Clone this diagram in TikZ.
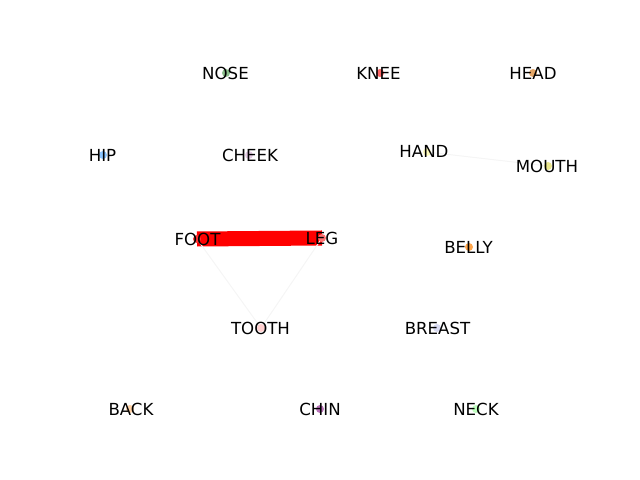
\documentclass[tikz,border=0pt]{standalone}
\usepackage{fontspec}
\setmainfont{DejaVu Sans}
\usetikzlibrary{backgrounds}

\tikzset{
    dot/.style={circle, inner sep=0pt, minimum size=0.08in, draw=none},
    word/.style={inner sep=0pt, font=\fontsize{12}{14}\selectfont},
    faint/.style={line width=0.01in, black!4},
    strong/.style={line width=0.15in, red, line cap=butt}
}

\begin{document}
\begin{tikzpicture}[x=0.01in, y=-0.01in]
    % Khung hình 640 x 480
    \useasboundingbox (0,0) rectangle (640,480);

    % 1. Các điểm (chấm màu nhạt)
    \node[dot, fill=red!80]          (foot)   at (197,239) {};
    \node[dot, fill=red!55]          (leg)    at (322,238) {};
    \node[dot, fill=green!45!black!45] (nose) at (226,73)  {};
    \node[dot, fill=red!60]          (knee)   at (380,73)  {};
    \node[dot, fill=brown!60!orange!70] (head) at (533,73) {};
    \node[dot, fill=blue!50!cyan!45] (hip)    at (103,155) {};
    \node[dot, fill=violet!20]       (cheek)  at (249,155) {};
    \node[dot, fill=yellow!25]       (hand)   at (427,152) {};
    \node[dot, fill=yellow!55!olive!40] (mouth) at (548,166) {};
    \node[dot, fill=orange!70]       (belly)  at (469,247) {};
    \node[dot, fill=pink!70!red!40]  (tooth)  at (261,328) {};
    \node[dot, fill=cyan!30!blue!15] (breast) at (437,328) {};
    \node[dot, fill=orange!35]       (back)   at (130,409) {};
    \node[dot, fill=violet!55]       (chin)   at (320,409) {};
    \node[dot, fill=green!25]        (neck)   at (476,409) {};

    % 2. Các cạnh (nằm dưới các chấm)
    \begin{pgfonlayer}{background}
        \draw[strong] (foot.center) -- (leg.center);
        \draw[faint] (foot.center) -- (tooth.center);
        \draw[faint] (leg.center) -- (tooth.center);
        \draw[faint] (hand.center) -- (mouth.center);
    \end{pgfonlayer}

    % 3. Nhãn chữ đặt đúng tâm mỗi điểm
    \node[word] (foot-l)   at (197.5,239) {FOOT};
    \node[word] (leg-l)    at (322,238)   {LEG};
    \node[word] (nose-l)   at (225.5,73)  {NOSE};
    \node[word] (knee-l)   at (378.5,73)  {KNEE};
    \node[word] (head-l)   at (533,73)    {HEAD};
    \node[word] (hip-l)    at (102.5,155) {HIP};
    \node[word] (cheek-l)  at (250,155)   {CHEEK};
    \node[word] (hand-l)   at (424,151)   {HAND};
    \node[word] (mouth-l)  at (547,166)   {MOUTH};
    \node[word] (belly-l)  at (468.5,247) {BELLY};
    \node[word] (tooth-l)  at (260.5,328) {TOOTH};
    \node[word] (breast-l) at (437.5,328) {BREAST};
    \node[word] (back-l)   at (131,409)   {BACK};
    \node[word] (chin-l)   at (320,409)   {CHIN};
    \node[word] (neck-l)   at (476,409)   {NECK};
\end{tikzpicture}
\end{document}
